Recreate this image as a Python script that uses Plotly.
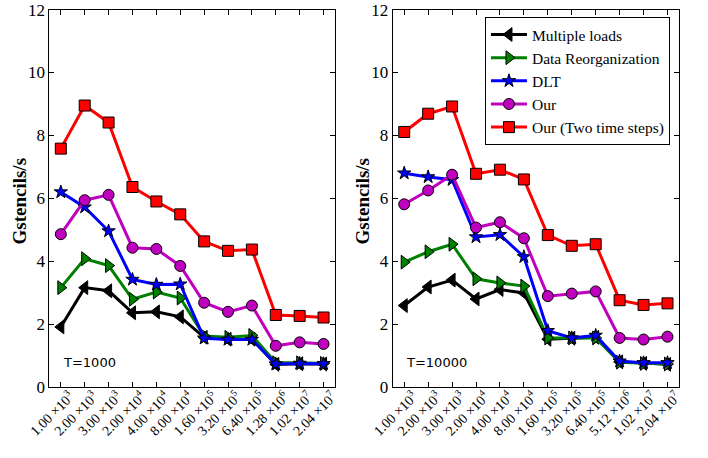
import plotly.graph_objects as go

labels_1000 = ["1.00 ×10<sup>3</sup>", "2.00 ×10<sup>3</sup>", "3.00 ×10<sup>3</sup>",
               "2.00 ×10<sup>4</sup>", "4.00 ×10<sup>4</sup>", "8.00 ×10<sup>4</sup>",
               "1.60 ×10<sup>5</sup>", "3.20 ×10<sup>5</sup>", "6.40 ×10<sup>5</sup>",
               "1.28 ×10<sup>6</sup>", "1.02 ×10<sup>7</sup>", "2.04 ×10<sup>7</sup>"]
labels_10000 = ["1.00 ×10<sup>3</sup>", "2.00 ×10<sup>3</sup>", "3.00 ×10<sup>3</sup>",
                "2.00 ×10<sup>4</sup>", "4.00 ×10<sup>4</sup>", "8.00 ×10<sup>4</sup>",
                "1.60 ×10<sup>5</sup>", "3.20 ×10<sup>5</sup>", "6.40 ×10<sup>5</sup>",
                "5.12 ×10<sup>6</sup>", "1.02 ×10<sup>7</sup>", "2.04 ×10<sup>7</sup>"]

series_names = ["Multiple loads", "Data Reorganization", "DLT", "Our", "Our (Two time steps)"]

# T = 1000
multi_1000 = [1.91, 3.16, 3.06, 2.36, 2.39, 2.23, 1.58, 1.52, 1.52, 0.72, 0.74, 0.73]
reorg_1000 = [3.16, 4.08, 3.86, 2.79, 3.02, 2.83, 1.62, 1.58, 1.64, 0.77, 0.77, 0.75]
dlt_1000 = [6.20, 5.72, 4.96, 3.42, 3.26, 3.27, 1.55, 1.51, 1.51, 0.73, 0.75, 0.74]
our_1000 = [4.86, 5.94, 6.11, 4.43, 4.39, 3.85, 2.68, 2.39, 2.59, 1.31, 1.42, 1.37]
our2_1000 = [7.58, 8.95, 8.41, 6.36, 5.90, 5.49, 4.63, 4.33, 4.37, 2.29, 2.26, 2.21]

# T = 10000
multi_10000 = [2.59, 3.18, 3.40, 2.80, 3.10, 2.99, 1.52, 1.55, 1.58, 0.80, 0.75, 0.72]
reorg_10000 = [3.97, 4.30, 4.54, 3.44, 3.31, 3.21, 1.56, 1.56, 1.56, 0.79, 0.75, 0.73]
dlt_10000 = [6.80, 6.68, 6.59, 4.77, 4.84, 4.14, 1.79, 1.56, 1.64, 0.82, 0.77, 0.77]
our_10000 = [5.81, 6.25, 6.75, 5.07, 5.24, 4.73, 2.89, 2.97, 3.04, 1.56, 1.51, 1.60]
our2_10000 = [8.11, 8.69, 8.92, 6.78, 6.91, 6.60, 4.83, 4.49, 4.54, 2.76, 2.61, 2.66]

y_ticks = [0, 2, 4, 6, 8, 10, 12]

colors = ["#000000", "#008000", "#0000ff", "#bf00bf", "#ff0000"]
symbols = ["triangle-left", "triangle-right", "star", "circle", "square"]
sizes = [12, 12, 10, 11, 11]

fig = go.Figure()
idx = list(range(12))
panels = [
    ([multi_1000, reorg_1000, dlt_1000, our_1000, our2_1000], "x", "y", False),
    ([multi_10000, reorg_10000, dlt_10000, our_10000, our2_10000], "x2", "y2", True),
]
for data, xa, ya, show in panels:
    for name, vals, c, s, sz in zip(series_names, data, colors, symbols, sizes):
        fig.add_trace(go.Scatter(
            x=idx, y=vals, name=name, mode="lines+markers",
            line=dict(color=c, width=3),
            marker=dict(symbol=s, size=sz, color=c, line=dict(color="black", width=1)),
            xaxis=xa, yaxis=ya, showlegend=show, cliponaxis=False))

serif = "Liberation Serif, Times New Roman, serif"
axis_common = dict(showline=True, linecolor="black", linewidth=1, mirror="ticks",
                   ticks="inside", ticklen=5, tickcolor="black", showgrid=False,
                   zeroline=False, automargin=False, ticklabeloverflow="allow")
yfont = dict(family=serif, size=17, color="black")
xfont = dict(family=serif, size=14, color="black")
title_font = dict(family=serif, size=19, color="black")
x_extra = dict(tickangle=-45, tickfont=xfont, ticklabelshift=9, ticklabelstandoff=-5)

fig.update_layout(
    width=708, height=458,
    margin=dict(l=0, r=0, t=0, b=0),
    paper_bgcolor="white", plot_bgcolor="white",
    xaxis=dict(domain=[0.0697, 0.4732], range=[-0.48, 11.48], tickvals=idx,
               ticktext=labels_1000, anchor="y", **x_extra, **axis_common),
    yaxis=dict(domain=[0.155, 0.979], range=[0, 12], tickvals=y_ticks, anchor="x",
               tickfont=yfont, **axis_common),
    xaxis2=dict(domain=[0.5547, 0.959], range=[-0.48, 11.48], tickvals=idx,
                ticktext=labels_10000, anchor="y2", **x_extra, **axis_common),
    yaxis2=dict(domain=[0.155, 0.979], range=[0, 12], tickvals=y_ticks, anchor="x2",
                tickfont=yfont, **axis_common),
    legend=dict(x=0.685, y=0.963, xanchor="left", yanchor="top",
                bordercolor="black", borderwidth=1, bgcolor="white",
                font=dict(family=serif, size=15.5, color="black"),
                tracegroupgap=0, itemsizing="trace", itemwidth=36),
    annotations=[
        dict(text="<b>Gstencils/s</b>", xref="paper", yref="paper", x=0.0275, y=0.561,
             textangle=-90, xanchor="center", yanchor="middle", showarrow=False, font=title_font),
        dict(text="<b>Gstencils/s</b>", xref="paper", yref="paper", x=0.5120, y=0.561,
             textangle=-90, xanchor="center", yanchor="middle", showarrow=False, font=title_font),
        dict(text="T=1000", xref="x domain", yref="y domain", x=0.04, y=0.064,
             xanchor="left", yanchor="middle", showarrow=False,
             font=dict(family="DejaVu Sans, sans-serif", size=13, color="black")),
        dict(text="T=10000", xref="x2 domain", yref="y2 domain", x=0.04, y=0.064,
             xanchor="left", yanchor="middle", showarrow=False,
             font=dict(family="DejaVu Sans, sans-serif", size=13, color="black")),
    ],
)

fig.write_html("out.html", config={"displayModeBar": False},
               post_script="document.body.style.margin='0';")
